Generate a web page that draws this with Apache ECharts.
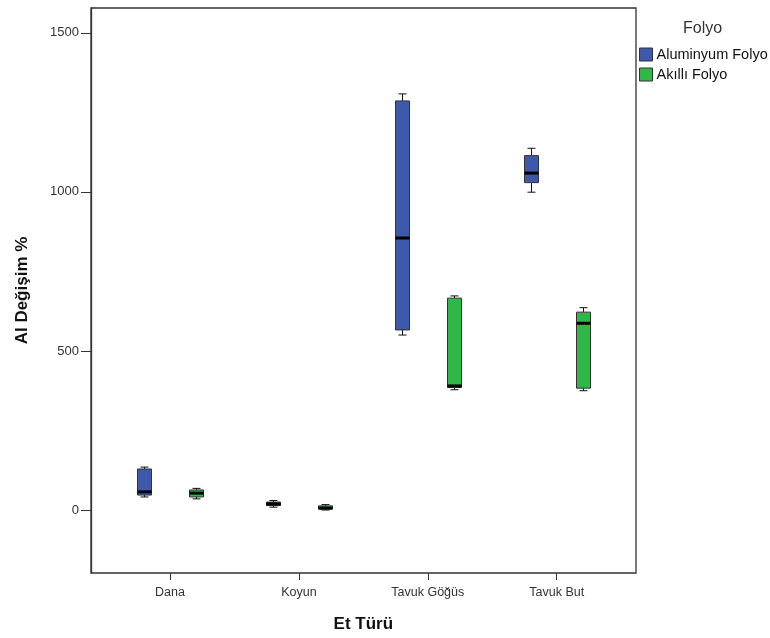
<!DOCTYPE html>
<html><head><meta charset="utf-8">
<script src="https://cdn.jsdelivr.net/npm/echarts@6/dist/echarts.min.js"></script>
<style>html,body{margin:0;padding:0;background:#fff}#c{width:770px;height:638px}</style>
</head><body><div id="c"></div>
<script>
const categories = ['Dana', 'Koyun', 'Tavuk Göğüs', 'Tavuk But'];
const seriesNames = ['Aluminyum Folyo', 'Akıllı Folyo'];
// each entry: [min, Q1, median, Q3, max]
const aluminyum = [[41, 47, 57, 129, 135], [9, 14, 19, 25, 30], [550, 566, 855, 1286, 1308], [999, 1029, 1059, 1114, 1137]];
const akilli = [[35, 41, 53, 63, 68], [0, 3, 6, 13, 17], [378, 385, 390, 666, 673], [375, 383, 587, 622, 636]];
const yTicks = [0, 500, 1000, 1500];
const yMin = -198, yMax = 1578;

const colors = ['#3e58ac', '#2fb847'];
const PAIR_OFFSET = 26, BOX_HALF = 7, CAP_HALF = 4;

function makeRender(side) {
  return function (params, api) {
    const x = api.value(0);
    const pMin = api.coord([x, api.value(1)]);
    const pQ1 = api.coord([x, api.value(2)]);
    const pMed = api.coord([x, api.value(3)]);
    const pQ3 = api.coord([x, api.value(4)]);
    const pMax = api.coord([x, api.value(5)]);
    const cx = Math.round(pMin[0] + side * PAIR_OFFSET) + 0.5;
    const fill = api.visual('color');
    const ln = { stroke: '#111', lineWidth: 1 };
    return {
      type: 'group',
      children: [
        { type: 'line', shape: { x1: cx, y1: pMax[1], x2: cx, y2: pQ3[1] }, style: ln },
        { type: 'line', shape: { x1: cx - CAP_HALF, y1: pMax[1], x2: cx + CAP_HALF, y2: pMax[1] }, style: ln },
        { type: 'line', shape: { x1: cx, y1: pMin[1], x2: cx, y2: pQ1[1] }, style: ln },
        { type: 'line', shape: { x1: cx - CAP_HALF, y1: pMin[1], x2: cx + CAP_HALF, y2: pMin[1] }, style: ln },
        { type: 'rect', shape: { x: cx - BOX_HALF, y: pQ3[1], width: BOX_HALF * 2, height: pQ1[1] - pQ3[1] },
          style: { fill: fill, stroke: '#333', lineWidth: 1 } },
        { type: 'line', shape: { x1: cx - BOX_HALF, y1: pMed[1], x2: cx + BOX_HALF, y2: pMed[1] },
          style: { stroke: '#000', lineWidth: 3 } }
      ]
    };
  };
}

const chart = echarts.init(document.getElementById('c'), null, { renderer: 'canvas' });
chart.setOption({
  animation: false,
  backgroundColor: '#fff',
  textStyle: { fontFamily: 'Liberation Sans, Arial, sans-serif' },
  title: {
    text: 'Folyo', left: 678, top: 16,
    textStyle: { fontSize: 16, fontWeight: 'normal', color: '#333', fontFamily: 'Liberation Sans, Arial, sans-serif' }
  },
  legend: {
    orient: 'vertical', left: 634, top: 42,
    itemWidth: 13, itemHeight: 13, itemGap: 5, icon: 'rect',
    itemStyle: { borderColor: '#333', borderWidth: 1 },
    textStyle: { fontSize: 14.5, color: '#111', padding: [0, 0, 0, -1] },
    data: seriesNames
  },
  grid: [
    { left: 91, right: 134, top: 8, bottom: 65, show: true, borderColor: '#333', borderWidth: 1.3, backgroundColor: '#fff' },
    { left: 105.55, right: 148.85, top: 8, bottom: 65 }
  ],
  xAxis: [
    { gridIndex: 0, type: 'value', show: false, min: 0, max: 1 },
    {
      gridIndex: 1, type: 'category', data: categories, boundaryGap: true, position: 'bottom',
      axisLine: { show: false, onZero: false },
      axisTick: { show: true, alignWithLabel: true, length: 7, lineStyle: { color: '#333', width: 1 } },
      axisLabel: { fontSize: 12.5, color: '#333', margin: 13 },
      splitLine: { show: false },
      name: 'Et Türü', nameLocation: 'middle', nameGap: 43,
      nameTextStyle: { fontSize: 17, fontWeight: 'bold', color: '#111' }
    }
  ],
  yAxis: [
    {
      gridIndex: 0, type: 'value', min: yMin, max: yMax,
      axisLine: { show: true, onZero: false, lineStyle: { color: '#333', width: 1.3 } },
      axisTick: { show: true, length: 10, customValues: yTicks, lineStyle: { color: '#333' } },
      axisLabel: { fontSize: 13, color: '#333', margin: 12, customValues: yTicks, formatter: v => String(v) },
      splitLine: { show: false },
      name: 'Al Değişim %', nameLocation: 'middle', nameGap: 60,
      nameTextStyle: { fontSize: 17, fontWeight: 'bold', color: '#111' }
    },
    { gridIndex: 1, type: 'value', min: yMin, max: yMax, show: false }
  ],
  series: [
    {
      type: 'custom', name: seriesNames[0], xAxisIndex: 1, yAxisIndex: 1,
      itemStyle: { color: colors[0] },
      encode: { x: 0, y: [1, 2, 3, 4, 5] },
      data: aluminyum.map((v, i) => [i].concat(v)),
      renderItem: makeRender(-1)
    },
    {
      type: 'custom', name: seriesNames[1], xAxisIndex: 1, yAxisIndex: 1,
      itemStyle: { color: colors[1] },
      encode: { x: 0, y: [1, 2, 3, 4, 5] },
      data: akilli.map((v, i) => [i].concat(v)),
      renderItem: makeRender(1)
    }
  ]
});
</script>
</body></html>
